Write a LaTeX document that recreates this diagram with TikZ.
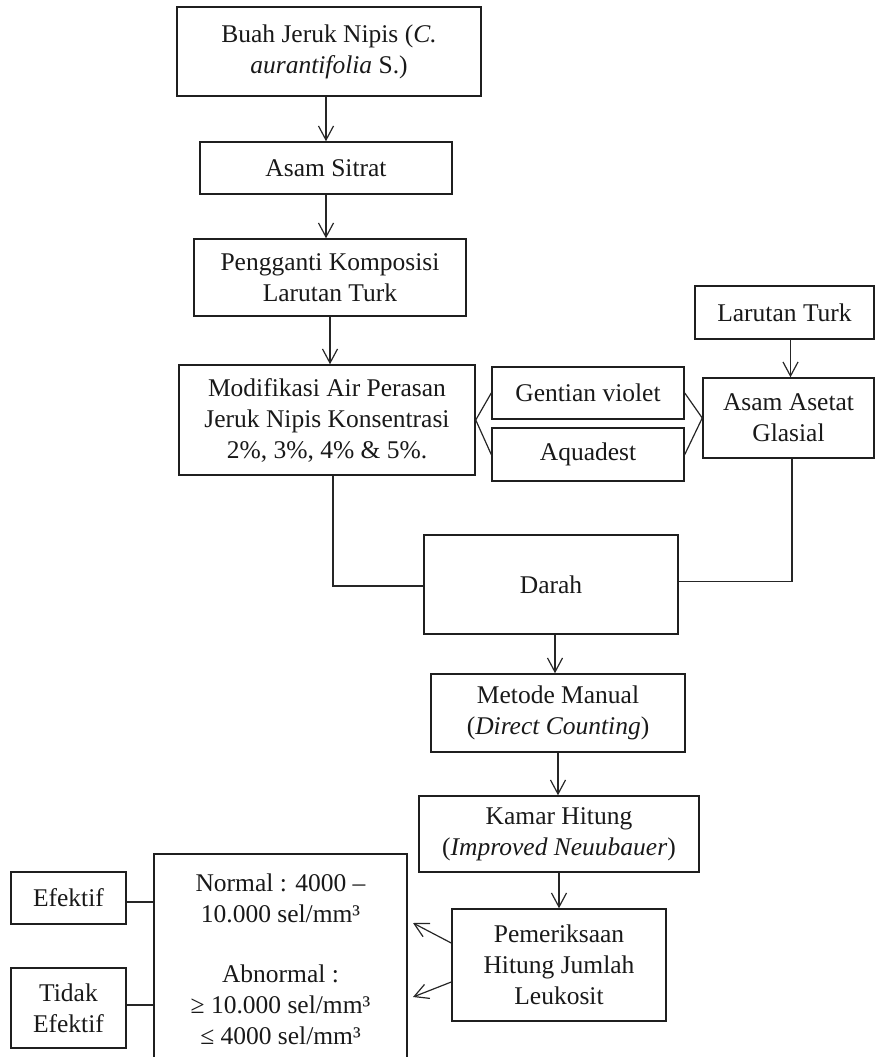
\documentclass[tikz,border=0pt]{standalone}
\usepackage{fontspec}
\setmainfont{Liberation Serif}
\usetikzlibrary{arrows.meta,calc}
\begin{document}
\begin{tikzpicture}[x=1pt,y=-1pt,
  box/.style={draw=black!88, line width=1.5pt, align=center, inner sep=2pt,
    font=\fontsize{25.5}{31}\selectfont, text=black!90},
  ln/.style={draw=black!85, line width=1.2pt},
  arr/.style={ln, -{Straight Barb[length=14pt,width=15pt,line width=1.2pt]}}]
\useasboundingbox (0,0) rectangle (876,1057);
% nodes
\node[box, minimum width=304pt, minimum height=89pt] (buah) at (329,51.5)
  {Buah Jeruk Nipis (\textit{C.}\\\textit{aurantifolia} S.)};
\node[box, minimum width=252pt, minimum height=52pt] (sitrat) at (326,168) {Asam Sitrat};
\node[box, minimum width=272pt, minimum height=77pt] (peng) at (330,277.5)
  {Pengganti Komposisi\\Larutan Turk};
\node[box, minimum width=296pt, minimum height=110pt] (modif) at (327,420)
  {Modifikasi Air Perasan\\Jeruk Nipis Konsentrasi\\2\%, 3\%, 4\% \& 5\%.};
\node[box, minimum width=192pt, minimum height=52pt] (gent) at (588,393) {Gentian violet};
\node[box, minimum width=192pt, minimum height=53pt] (aqua) at (588,454.5) {Aquadest};
\node[box, minimum width=179pt, minimum height=53pt] (turk) at (784.5,312.5) {Larutan Turk};
\node[box, minimum width=171pt, minimum height=80pt] (asetat) at (788.5,418)
  {Asam Asetat\\Glasial};
\node[box, minimum width=254pt, minimum height=99pt] (darah) at (551,584.5) {Darah};
\node[box, minimum width=254pt, minimum height=78pt] (metode) at (558,713)
  {Metode Manual\\(\textit{Direct Counting})};
\node[box, minimum width=280pt, minimum height=76pt] (kamar) at (559,834)
  {Kamar Hitung\\(\textit{Improved Neuubauer})};
\node[box, minimum width=214pt, minimum height=112pt] (pemer) at (559,965)
  {Pemeriksaan\\Hitung Jumlah\\Leukosit};
\node[box, minimum width=253pt, minimum height=210pt] (result) at (280.5,959)
  {Normal : 4000 –\\10.000 sel/mm³\\[29pt]Abnormal :\\≥ 10.000 sel/mm³\\≤ 4000 sel/mm³};
\node[box, minimum width=115pt, minimum height=52pt] (efek) at (68.5,898) {Efektif};
\node[box, minimum width=115pt, minimum height=80pt] (tidak) at (68.5,1008) {Tidak\\Efektif};
\coordinate (r1) at (413,923);
\coordinate (r2) at (413,997);
% connectors
\draw[arr] (sitrat.north |- buah.south) -- (sitrat.north);
\draw[arr] (sitrat.south) -- (sitrat.south |- peng.north);
\draw[arr] (peng.south) -- (peng.south |- modif.north);
\draw[ln] (modif.east) -- (gent.west);
\draw[ln] (modif.east) -- (aqua.west);
\draw[ln] (gent.east) -- (asetat.west);
\draw[ln] (aqua.east) -- (asetat.west);
\draw[arr] ([xshift=2pt]asetat.north |- turk.south) -- ([xshift=2pt]asetat.north);
\draw[ln] ([xshift=6pt]modif.south) |- ([yshift=-1.5pt]darah.west);
\draw[ln] ([xshift=3.5pt]asetat.south) |- ([yshift=3pt]darah.east);
\draw[arr] ([xshift=4pt]darah.south) -- ([xshift=4pt]darah.south |- metode.north);
\draw[arr] (metode.south) -- (metode.south |- kamar.north);
\draw[arr] (kamar.south) -- (kamar.south |- pemer.north);
\draw[arr] ([yshift=22pt]pemer.west) -- (r1);
\draw[arr] ([yshift=-17pt]pemer.west) -- (r2);
\draw[ln] ([yshift=-4pt]efek.east) -- ([yshift=-4pt]efek.east -| result.west);
\draw[ln] ([yshift=3pt]tidak.east) -- ([yshift=3pt]tidak.east -| result.west);
\end{tikzpicture}
\end{document}
